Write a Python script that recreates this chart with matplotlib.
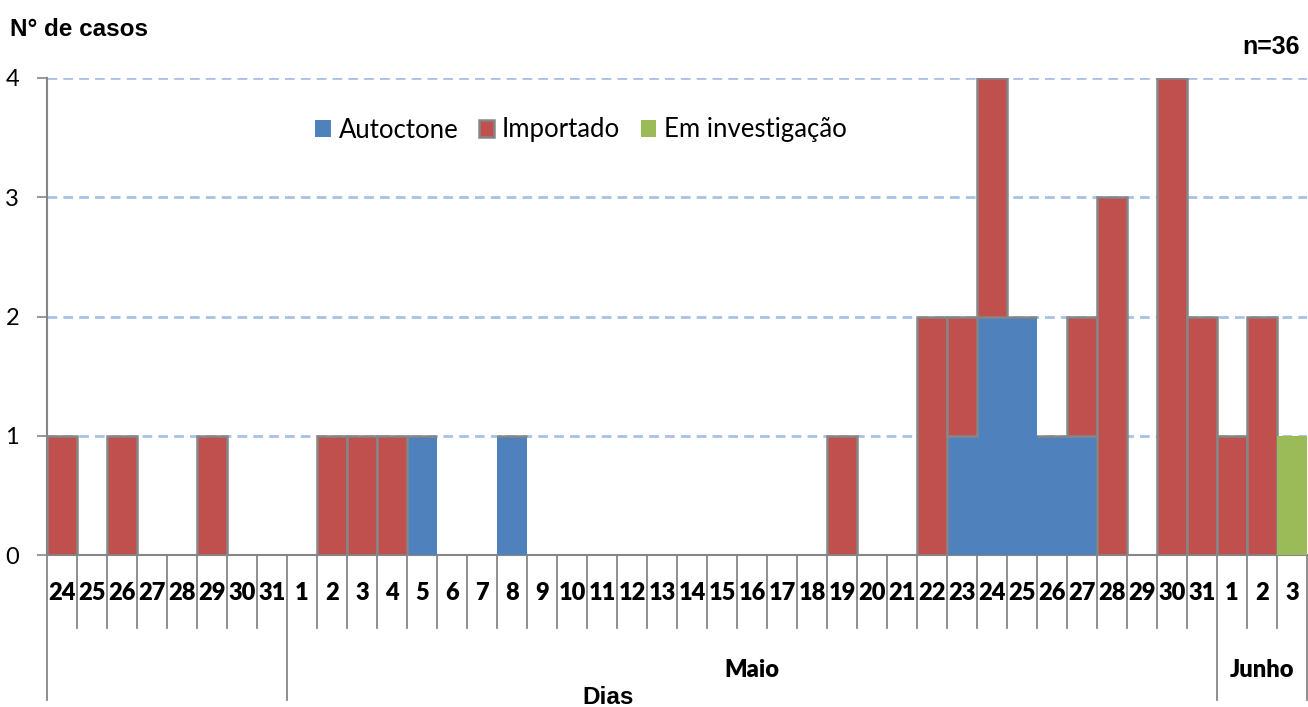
import matplotlib
matplotlib.use("Agg")
import matplotlib.pyplot as plt
from matplotlib.transforms import blended_transform_factory
import numpy as np

days = ['24', '25', '26', '27', '28', '29', '30', '31',
        '1', '2', '3', '4', '5', '6', '7', '8', '9', '10', '11', '12', '13', '14', '15',
        '16', '17', '18', '19', '20', '21', '22', '23', '24', '25', '26', '27', '28',
        '29', '30', '31',
        '1', '2', '3']
month_groups = [('', 8), ('Maio', 31), ('Junho', 3)]

autoctone = [0, 0, 0, 0, 0, 0, 0, 0,
             0, 0, 0, 0, 1, 0, 0, 1, 0, 0, 0, 0, 0, 0, 0,
             0, 0, 0, 0, 0, 0, 0, 1, 2, 2, 1, 1, 0,
             0, 0, 0,
             0, 0, 0]
importado = [1, 0, 1, 0, 0, 1, 0, 0,
             0, 1, 1, 1, 0, 0, 0, 0, 0, 0, 0, 0, 0, 0, 0,
             0, 0, 0, 1, 0, 0, 2, 1, 2, 0, 0, 1, 3,
             0, 4, 2,
             1, 2, 0]
investigacao = [0, 0, 0, 0, 0, 0, 0, 0,
                0, 0, 0, 0, 0, 0, 0, 0, 0, 0, 0, 0, 0, 0, 0,
                0, 0, 0, 0, 0, 0, 0, 0, 0, 0, 0, 0, 0,
                0, 0, 0,
                0, 0, 1]

W, H = 1308, 707
fig = plt.figure(figsize=(W / 100, H / 100), dpi=100)
ax_left, ax_right, ax_top, ax_bot = 47, 1307, 78, 555
ax = fig.add_axes([ax_left / W, 1 - ax_bot / H, (ax_right - ax_left) / W, (ax_bot - ax_top) / H])

blue = '#4F81BD'
red = '#C0504D'
green = '#9BBB59'
gray = '#868686'

x = np.arange(len(days))
a = np.array(autoctone)
i = np.array(importado)
e = np.array(investigacao)

ax.bar(x, a, width=1.0, color=blue, linewidth=0, label='Autoctone', zorder=3)
ax.bar(x, i, width=1.0, bottom=a, color=red, edgecolor=gray, linewidth=1.8, label='Importado', zorder=3)
ax.bar(x, e, width=1.0, bottom=a + i, color=green, linewidth=0, label='Em investigação', zorder=3)

ax.set_xlim(-0.5, len(days) - 0.5)
ax.set_ylim(0, 4)
ax.set_yticks([0, 1, 2, 3, 4])
ax.yaxis.grid(True, color='#A9C1E8', linestyle=(0, (3.5, 2.2)), linewidth=2)
ax.set_axisbelow(True)
for s in ['top', 'right']:
    ax.spines[s].set_visible(False)
for s in ['left', 'bottom']:
    ax.spines[s].set_color(gray)
    ax.spines[s].set_linewidth(1.5)
ax.tick_params(axis='y', length=7, width=1.2, color=gray, labelsize=17, pad=13)
for lab in ax.get_yticklabels():
    lab.set_family('Lato')
ax.set_xticks([])

# category axis
trans = blended_transform_factory(ax.transData, fig.transFigure)
def fy(py):
    return 1 - py / H

boundaries = set()
pos = -0.5
for name, n in month_groups:
    boundaries.add(pos)
    pos += n
boundaries.add(pos)

for k in range(len(days) + 1):
    xb = k - 0.5
    bottom_px = 700 if xb in boundaries else 628
    ax.plot([xb, xb], [fy(555), fy(bottom_px)], transform=trans, color=gray,
            linewidth=1.3, clip_on=False, zorder=1)

for k, d in enumerate(days):
    ax.text(k, fy(593), d, transform=trans, ha='center', va='center',
            fontsize=17, fontweight='heavy', family='Lato')

pos = -0.5
for name, n in month_groups:
    if name:
        ax.text(pos + n / 2, fy(670), name, transform=trans, ha='center', va='center',
                fontsize=17, fontweight='heavy', family='Lato')
    pos += n

fig.text(608 / W, fy(697), 'Dias', ha='center', va='center', fontsize=17.5,
         fontweight='bold', family='Liberation Sans')
fig.text(10 / W, fy(29), 'N° de casos', ha='left', va='center', fontsize=17.5,
         fontweight='bold', family='Liberation Sans')
fig.text(1300 / W, fy(47), 'n=36', ha='right', va='center', fontsize=18,
         fontweight='bold', family='Liberation Sans')

leg = ax.legend(loc='center', bbox_to_anchor=(581 / W, fy(130)), bbox_transform=fig.transFigure,
                ncol=3, frameon=False, prop={'family': 'Lato', 'size': 18.5},
                handlelength=0.6, handleheight=0.6, handletextpad=0.3, columnspacing=0.8)

fig.savefig('out.png', dpi=100)
